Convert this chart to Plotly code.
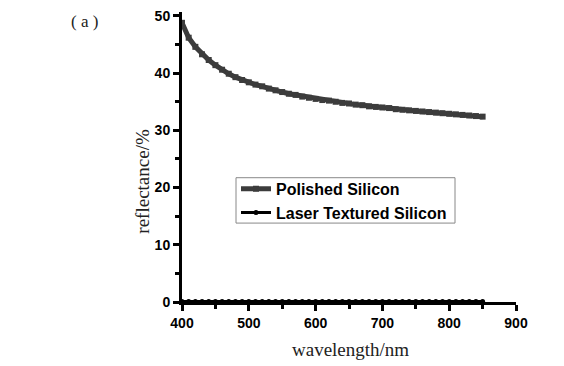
import plotly.graph_objects as go

wavelength = [400, 410, 420, 430, 440, 450, 460, 470, 480, 490,
              500, 510, 520, 530, 540, 550, 560, 570, 580, 590,
              600, 610, 620, 630, 640, 650, 660, 670, 680, 690,
              700, 710, 720, 730, 740, 750, 760, 770, 780, 790,
              800, 810, 820, 830, 840, 850]
polished = [48.8, 46.2, 44.6, 43.3, 42.3, 41.4, 40.6, 39.9, 39.3, 38.8,
            38.4, 38.0, 37.7, 37.3, 37.0, 36.7, 36.4, 36.2, 35.9, 35.7,
            35.5, 35.3, 35.2, 35.0, 34.8, 34.7, 34.5, 34.4, 34.2, 34.1,
            34.0, 33.9, 33.7, 33.6, 33.5, 33.4, 33.3, 33.2, 33.1, 33.0,
            32.9, 32.8, 32.7, 32.6, 32.5, 32.4]
laser = [0.1] * len(wavelength)
x_ticks = [400, 500, 600, 700, 800, 900]
y_ticks = [0, 10, 20, 30, 40, 50]

# page offset (body margin) compensation
OX, OY = 8, 8
W, H = 564, 366
l, r, t, b = 182 - OX, W - 516 + OX, 0, H - 302 + OY
pw, ph = W - l - r, H - t - b

fig = go.Figure()
fig.add_trace(go.Scatter(
    x=wavelength, y=polished, mode="lines+markers", name="Polished Silicon",
    line=dict(color="#3c3c3c", width=5),
    marker=dict(symbol="square", size=6, color="#3c3c3c"),
    cliponaxis=False))
fig.add_trace(go.Scatter(
    x=wavelength, y=laser, mode="lines+markers", name="Laser Textured Silicon",
    line=dict(color="black", width=3),
    marker=dict(symbol="circle", size=5, color="black"),
    cliponaxis=False))

tickfont = dict(family="Liberation Sans, Arial, sans-serif", size=14, color="black", weight="bold")
axis_common = dict(showline=True, linecolor="black", linewidth=3, ticks="outside",
                   ticklen=6, tickwidth=3, tickcolor="black", showgrid=False,
                   zeroline=False, tickfont=tickfont, mirror=False,
                   ticklabeloverflow="allow")

fig.update_xaxes(range=[400, 900], tickvals=x_ticks,
                 minor=dict(tickvals=[450, 550, 650, 750, 850], ticks="outside", ticklen=4,
                            tickwidth=3, tickcolor="black"),
                 **axis_common)
fig.update_yaxes(range=[0, (302 - 8) / 5.8], tickvals=y_ticks,
                 minor=dict(tickvals=[5, 15, 25, 35, 45], ticks="outside", ticklen=4,
                            tickwidth=3, tickcolor="black"),
                 **axis_common)


def px(xs):
    return (xs - OX - l) / pw


def py(ys):
    return (H - b - (ys - OY)) / ph


serif = dict(family="Liberation Serif, Times New Roman, serif", size=19, color="#222")
fig.update_layout(
    width=W, height=H,
    margin=dict(l=l, r=r, t=t, b=b, pad=0),
    paper_bgcolor="white", plot_bgcolor="white",
    showlegend=True,
    legend=dict(x=px(236), y=py(170), xanchor="left", yanchor="top",
                borderwidth=0, bgcolor="rgba(0,0,0,0)",
                font=dict(family="Liberation Sans, Arial, sans-serif", size=16,
                          color="black", weight="bold"),
                tracegroupgap=0, itemwidth=30),
    shapes=[dict(type="rect", xref="paper", yref="paper",
                 x0=px(236), x1=px(455), y0=py(176), y1=py(222),
                 line=dict(color="#888", width=1), fillcolor="white", layer="above")],
    annotations=[
        dict(text="reflectance/%", x=px(143), y=py(180), xref="paper", yref="paper",
             xanchor="center", yanchor="middle",
             showarrow=False, textangle=-90, font=serif),
        dict(text="wavelength/nm", x=px(350), y=py(350), xref="paper", yref="paper",
             xanchor="center", yanchor="middle", showarrow=False, font=serif),
        dict(text="( a )", x=px(84), y=py(18), xref="paper", yref="paper",
             xanchor="center", yanchor="middle", showarrow=False, font=dict(serif, size=17)),
    ],
)

fig.write_html("out.html")
